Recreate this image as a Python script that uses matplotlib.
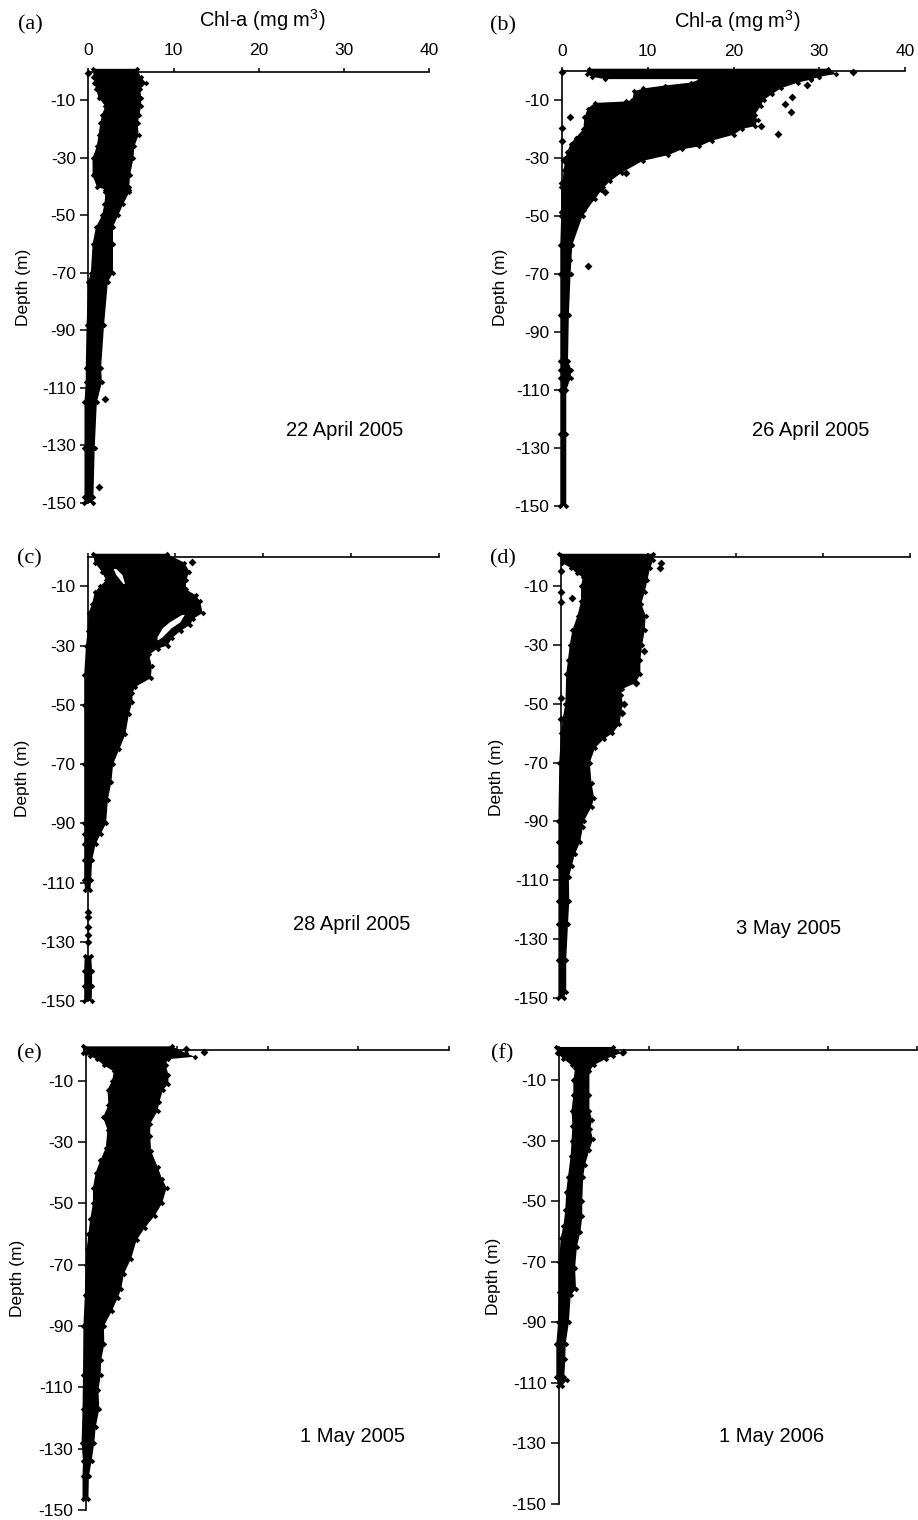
import matplotlib
matplotlib.use("Agg")
import matplotlib.pyplot as plt
import numpy as np

plt.rcParams['font.family'] = ['Liberation Sans', 'DejaVu Sans']
plt.rcParams['mathtext.default'] = 'regular'

W, H = 918, 1520
x_ticks = [0, 10, 20, 30, 40]
y_ticks = [-10, -30, -50, -70, -90, -110, -130, -150]
y_labels = ['-10', '-30', '-50', '-70', '-90', '-110', '-130', '-150']

# ---- panel (a): 22 April 2005
a_depth = [-1, 2, 4, 6, 9, 12, 15, 18, 22, 26, 30, 36, 40, 41, 42, 46, 50, 54, 60, 70, 73, 88, 103, 108, 115, 131, 148, 150]
a_left = [0.6, 0.6, 0.7, 0.9, 1.2, 2.0, 1.6, 1.4, 1.2, 1.0, 0.5, 0.5, 1.0, 2.0, 2.0, 1.9, 1.6, 0.9, 0.5, 0.3, 0.0, -0.2, -0.3, -0.3, -0.45, -0.45, -0.45, -0.45]
a_right = [5.7, 6.2, 6.8, 6.1, 6.2, 6.2, 6.0, 5.8, 5.9, 5.4, 5.3, 4.9, 4.8, 4.8, 4.8, 4.1, 3.5, 2.9, 2.9, 2.9, 2.3, 1.85, 1.5, 1.6, 1.0, 0.75, 0.6, 0.5]
a_out_x = [0.0, 2.0, 1.2]
a_out_d = [0.3, 113.9, 144.6]

# ---- panel (b): 26 April 2005
b_band_depth = [-0.8, 1, 2, 2.8]
b_band_left = [3.2, 2.9, 3.5, 5]
b_band_right = [31, 32, 30, 29]
b_depth = [2, 3, 4, 5, 6, 7, 10, 10.5, 11, 13, 16, 20, 23, 25, 28, 30, 34, 40]
b_left = [16, 16, 15, 12, 9.5, 8.4, 8.2, 7.5, 3.8, 3.0, 2.6, 2.5, 1.6, 1.0, 0.6, 0.4, 0.2, 0]
b_rdepth = [2, 3, 4, 6, 8, 10, 12, 15, 17, 19, 20, 22, 24, 26, 27, 29, 31, 35, 38, 41, 44, 48, 52, 56, 60, 65, 70]
b_right = [30, 29, 27.5, 25.5, 24.5, 23.5, 23.2, 22.5, 22.8, 22.5, 21, 20, 17.5, 16, 14, 12.4, 9.4, 7.0, 5.6, 4.6, 3.9, 2.6, 1.6, 1.3, 1.2, 0.9, 1.0]
b_low_depth = [40, 50, 60, 70, 84, 100, 103, 106, 110, 125, 150]
b_low_left = [-0.1, -0.1, -0.2, -0.2, -0.2, -0.2, -0.2, -0.2, -0.2, -0.2, -0.2]
b_low_right = [4.8, 2.4, 1.2, 1.0, 0.8, 0.7, 1.1, 1.0, 0.5, 0.5, 0.5]
b_out_x = [0.93, 0, 0, 0.2, 0, 0, 26.8, 26.0, 26.7, 25.2, 33.9, 23.2, 28.6, 7.5, 5.0, 3.0, 0.0]
b_out_d = [15.7, 19.5, 24, 30.7, 38.5, 48.5, 8.9, 11.4, 14, 21.8, 0.2, 19, 4.8, 35.3, 41.6, 67.4, 0.3]

# ---- panel (c): 28 April 2005
c_depth = [-1, 2, 5, 8, 10, 12, 16, 19, 25, 30, 40, 50, 70, 90, 93.5, 97, 102.5, 109, 112.6]
c_left = [0.6, 0.8, 1.6, 2.1, 1.4, 0.8, 0.5, 0.1, 0, -0.2, -0.4, -0.4, -0.4, -0.4, -0.4, -0.4, -0.4, -0.4, -0.3]
c_rdepth = [-1, 2, 5, 8, 11, 13, 15, 19, 21, 23, 25, 27.5, 30, 31, 33, 37, 41, 44, 46, 49, 53, 60, 65, 70, 76, 82, 90, 93.5, 97, 102.5, 109, 112.6]
c_right = [9, 11.0, 11.6, 11.2, 11.2, 12.3, 12.8, 13.1, 12, 11.7, 10.6, 9.6, 9.1, 8.0, 7.0, 7.3, 7.2, 5.4, 5.1, 5.1, 4.7, 4.3, 3.6, 2.9, 2.7, 2.3, 2.1, 1.5, 0.9, 0.5, 0.4, 0.3]
c_deep_depth = [134.7, 140, 145, 150]
c_deep_left = [-0.35, -0.4, -0.4, -0.4]
c_deep_right = [0.4, 0.5, 0.5, 0.45]
c_out_x = [11.9, 0.05, 0.05, 0.05, 0.05, 0.05]
c_out_d = [1.7, 120.1, 121.7, 125.1, 127.7, 130]
c_gap1_depth = [4, 6, 9]
c_gap1_left = [2.9, 3.2, 4.0]
c_gap1_right = [3.2, 3.9, 4.2]
c_gap2_depth = [19.5, 22, 24, 27, 28]
c_gap2_left = [10.7, 9.3, 8.5, 7.9, 7.9]
c_gap2_right = [11.0, 10.5, 9.5, 8.5, 8.0]

# ---- panel (d): 3 May 2005
d_depth = [-1, 2, 4, 5.7, 7, 10, 15, 20, 25, 30, 35, 40, 50, 55, 60, 70, 90, 97, 105, 117, 125, 137, 150]
d_left = [-0.2, 0.1, 1.2, 1.8, 2.5, 2.3, 2.3, 1.9, 1.3, 1.0, 0.8, 0.6, 0.5, 0.2, 0, -0.2, -0.3, -0.3, -0.3, -0.3, -0.3, -0.3, -0.3]
d_rdepth = [-1, 1, 4, 8, 12, 16, 20, 25, 30, 35, 40, 43, 45, 47, 50, 53, 57, 60, 62, 65, 70, 77, 82, 85, 90, 92, 97, 101, 105, 109, 117, 125, 137, 148, 150]
d_right = [10.5, 10.6, 10.2, 9.9, 9.6, 9.2, 9.7, 9.6, 9.3, 9.1, 9.1, 8.5, 7.0, 6.9, 7.1, 6.9, 6.7, 5.9, 4.9, 3.9, 3.3, 3.5, 3.8, 3.5, 2.6, 2.5, 2.2, 1.6, 1.25, 0.9, 0.95, 0.8, 0.6, 0.6, 0.3]
d_out_x = [0, 0, 0, 1.3, 9.5, 0, 0, 11.3, 11.5, 8.6, 7.2, 7.0]
d_out_d = [4.8, 12, 15.3, 14.2, 32, 48, 55, 4, 2.3, 43, 50, 53]

# ---- panel (e): 1 May 2005
e_depth = [-1.2, 1, 2, 3, 5, 7, 10, 13, 18, 22, 26, 32, 36, 40, 45, 50, 55, 60, 65, 70, 80, 90, 106, 117, 128, 134, 139, 146.5]
e_left = [-0.3, -0.3, 0.5, 1.2, 2.0, 3.1, 2.9, 2.4, 2.5, 1.9, 2.4, 2.2, 1.6, 1.1, 0.8, 0.8, 0.5, 0.3, 0.1, 0, -0.1, -0.25, -0.3, -0.35, -0.45, -0.3, -0.35, -0.35]
e_rdepth = [-1.2, 1, 2.2, 3, 5, 8, 11, 13, 17, 20, 24, 28, 33, 38, 42, 45, 50, 54, 58, 62, 68, 73, 78, 81, 85, 90, 96, 101, 106, 111, 117, 123, 128, 134, 139, 146.5]
e_right = [9.5, 11, 12.0, 9, 8.8, 9.1, 9.1, 8.5, 8.1, 7.9, 7.1, 7.1, 7.2, 7.9, 8.4, 8.9, 8.4, 7.6, 6.5, 5.6, 5.0, 4.2, 3.9, 3.5, 2.9, 2.0, 2.05, 1.7, 1.65, 1.4, 1.5, 1.1, 0.95, 0.65, 0.35, 0.3]
e_out_x = [13.0, 0.0, 11.0]
e_out_d = [0.5, 0.5, -0.2]

# ---- panel (f): 1 May 2006
f_depth = [-1, 1, 3, 5, 6, 10, 15, 20, 25, 30, 35, 42, 47, 53, 58, 62, 70, 80, 90, 97, 108, 111]
f_left = [-0.3, -0.2, 0.5, 1.4, 1.8, 1.6, 1.6, 1.4, 1.5, 1.4, 1.3, 1.0, 0.8, 0.7, 0.5, 0.2, 0, 0, -0.1, -0.3, -0.3, -0.1]
f_rdepth = [-1, 1, 2, 3, 5, 7, 15, 20, 23, 26, 29.5, 33, 38, 42, 50, 55, 60, 65, 72, 79, 81, 90, 97, 102, 108, 109, 111]
f_right = [6.0, 7.0, 6.0, 5.2, 3.9, 3.4, 3.4, 3.4, 3.7, 3.5, 3.8, 3.4, 2.9, 2.7, 2.6, 2.6, 2.4, 2.0, 1.8, 1.9, 1.3, 1.1, 0.75, 0.7, 0.6, 0.9, 0.3]
f_out_x = [7.2, 0.0]
f_out_d = [0.6, 0.5]

panels = [
    dict(box=(88.3, 71.7, 429.3, 503.0), tag='(a)', tag_xy=(30, 25), date='22 April 2005', date_xy=(345, 431),
         ylab_xy=(24, 287), chl_xy=(262, 20), labels=True, xpad=7),
    dict(box=(562.0, 71.0, 905.0, 506.0), tag='(b)', tag_xy=(503, 26), date='26 April 2005', date_xy=(811, 431),
         ylab_xy=(500, 287), chl_xy=(737, 21), labels=True, xpad=5.5),
    dict(box=(87.7, 556.7, 438.7, 1001.0), tag='(c)', tag_xy=(29, 559), date='28 April 2005', date_xy=(352, 925),
         ylab_xy=(23, 778), chl_xy=None, labels=False, xpad=7),
    dict(box=(561.0, 556.7, 910.0, 998.0), tag='(d)', tag_xy=(503, 559), date='3 May 2005', date_xy=(789, 929),
         ylab_xy=(497, 777), chl_xy=None, labels=False, xpad=7),
    dict(box=(85.7, 1050.0, 449.3, 1510.0), tag='(e)', tag_xy=(29, 1054), date='1 May 2005', date_xy=(352, 1437),
         ylab_xy=(18, 1278), chl_xy=None, labels=False, xpad=7),
    dict(box=(559.0, 1050.0, 917.0, 1504.0), tag='(f)', tag_xy=(502, 1054), date='1 May 2006', date_xy=(772, 1437),
         ylab_xy=(493, 1276), chl_xy=None, labels=False, xpad=7),
]

# (depth, left, right) bodies; left/right may be sampled on different depths
bodies = [
    [(a_depth, a_left, a_depth, a_right)],
    [(b_band_depth, b_band_left, b_band_depth, b_band_right),
     (b_depth, b_left, b_rdepth, b_right),
     (b_low_depth, b_low_left, b_low_depth, b_low_right)],
    [(c_depth, c_left, c_rdepth, c_right), (c_deep_depth, c_deep_left, c_deep_depth, c_deep_right)],
    [(d_depth, d_left, d_rdepth, d_right)],
    [(e_depth, e_left, e_rdepth, e_right)],
    [(f_depth, f_left, f_rdepth, f_right)],
]
outliers = [(a_out_x, a_out_d), (b_out_x, b_out_d), (c_out_x, c_out_d), (d_out_x, d_out_d), (e_out_x, e_out_d), (f_out_x, f_out_d)]
gaps = [[], [], [(c_gap1_depth, c_gap1_left, c_gap1_right), (c_gap2_depth, c_gap2_left, c_gap2_right)], [], [], []]

fig = plt.figure(figsize=(W / 100, H / 100), dpi=100, facecolor='white')


def ftext(xy, s, **kw):
    fig.text(xy[0] / W, 1 - xy[1] / H, s, ha='center', va='center', **kw)


for p, body, out, gap in zip(panels, bodies, outliers, gaps):
    x0, y0, x1, y1 = p['box']
    ax = fig.add_axes([x0 / W, 1 - y1 / H, (x1 - x0) / W, (y1 - y0) / H])
    ax.set_xlim(0, 40)
    ax.set_ylim(-150, 0)
    for s in ('right', 'bottom'):
        ax.spines[s].set_visible(False)
    for s in ('left', 'top'):
        ax.spines[s].set_linewidth(1.2)
    ax.xaxis.set_ticks_position('top')
    ax.set_xticks(x_ticks)
    if p['labels']:
        ax.set_xticklabels([str(t) for t in x_ticks], fontsize=12.5)
    else:
        ax.set_xticklabels([])
    ax.set_yticks(y_ticks)
    ax.set_yticklabels(y_labels, fontsize=12.5)
    ax.tick_params(axis='x', length=3, width=1.1, pad=p['xpad'])
    ax.tick_params(axis='y', length=5.5, width=1.1, pad=3.5)

    for dl, xl, dr, xr in body:
        dl, xl, dr, xr = map(np.asarray, (dl, xl, dr, xr))
        poly_x = np.concatenate([xl, xr[::-1]])
        poly_y = np.concatenate([-dl, -dr[::-1]])
        ax.fill(poly_x, poly_y, color='black', lw=0, clip_on=False, zorder=3)
        ax.scatter(poly_x, poly_y, marker='D', s=8, color='black', lw=0, clip_on=False, zorder=3)
    for dg, lg, rg in gap:
        ax.fill_betweenx(-np.asarray(dg), lg, rg, color='white', lw=0, zorder=4)
    ax.scatter(out[0], -np.asarray(out[1]), marker='D', s=16, color='black', lw=0, clip_on=False, zorder=5)

    ftext(p['tag_xy'], p['tag'], fontsize=16, family=['Liberation Serif'])
    ftext(p['date_xy'], p['date'], fontsize=14.5)
    ftext(p['ylab_xy'], 'Depth (m)', fontsize=12.5, rotation=90)
    if p['chl_xy']:
        ftext(p['chl_xy'], 'Chl-a (mg m$^{3}$)', fontsize=14.5)

fig.savefig('out.png', dpi=100, facecolor='white')
